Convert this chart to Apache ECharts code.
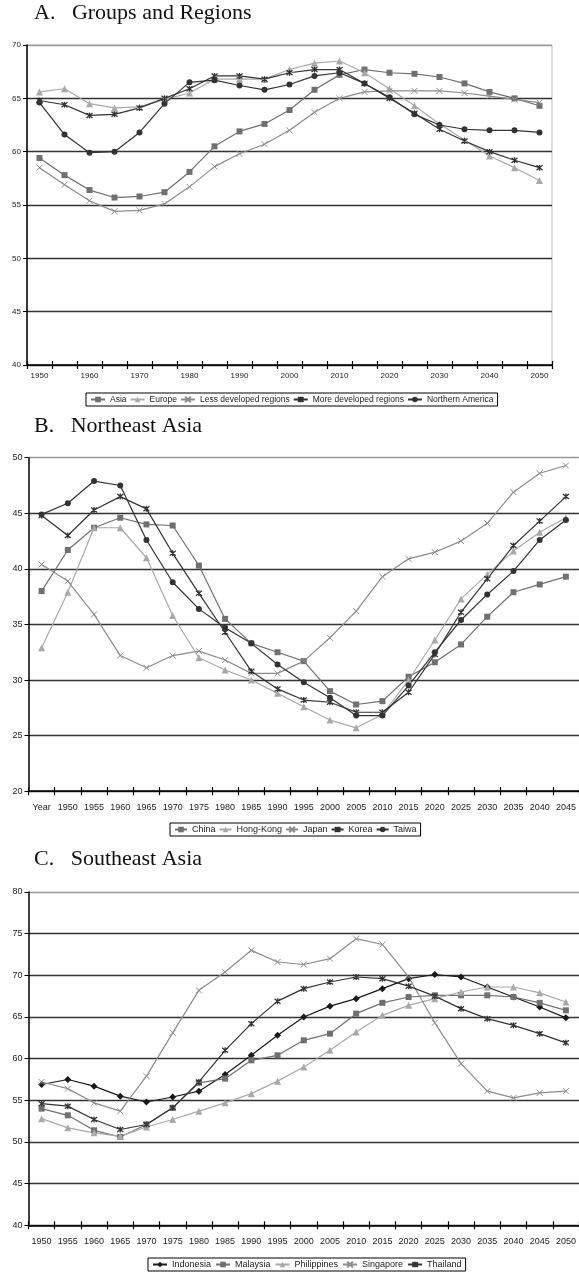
<!DOCTYPE html>
<html><head><meta charset="utf-8">
<script src="https://cdn.jsdelivr.net/npm/echarts@6/dist/echarts.min.js"></script>
<style>html,body{margin:0;padding:0;background:#fff}#c{width:579px;height:1276px}</style>
</head><body><div id="c"></div>
<script>
// ---------- DATA ----------
const yearsA = ['1950','1955','1960','1965','1970','1975','1980','1985','1990','1995','2000','2005','2010','2015','2020','2025','2030','2035','2040','2045','2050'];
const asia     = [59.4,57.8,56.4,55.7,55.8,56.2,58.1,60.5,61.9,62.6,63.9,65.8,67.2,67.7,67.4,67.3,67.0,66.4,65.6,65.0,64.3];
const europe   = [65.6,65.9,64.5,64.1,64.2,64.9,65.5,66.8,66.8,66.8,67.7,68.3,68.5,67.4,65.9,64.3,62.6,61.1,59.6,58.5,57.3];
const lessDev  = [58.5,56.9,55.4,54.4,54.5,55.1,56.7,58.6,59.8,60.7,62.0,63.7,65.0,65.6,65.7,65.7,65.7,65.5,65.2,64.9,64.6];
const moreDev  = [64.8,64.4,63.4,63.5,64.1,65.0,65.9,67.1,67.1,66.8,67.4,67.7,67.7,66.4,65.0,63.6,62.1,61.0,60.0,59.2,58.5];
const nAmerica = [64.6,61.6,59.9,60.0,61.8,64.5,66.5,66.7,66.2,65.8,66.3,67.1,67.4,66.4,65.1,63.5,62.5,62.1,62.0,62.0,61.8];

const yearsB = ['Year','1950','1955','1960','1965','1970','1975','1980','1985','1990','1995','2000','2005','2010','2015','2020','2025','2030','2035','2040','2045'];
const china    = [38.0,41.7,43.7,44.6,44.0,43.9,40.3,35.5,33.3,32.5,31.7,29.0,27.8,28.1,30.3,31.6,33.2,35.7,37.9,38.6,39.3];
const hongKong = [32.9,37.9,43.7,43.7,41.0,35.8,32.0,30.9,30.0,28.8,27.6,26.4,25.7,26.9,30.0,33.6,37.3,39.5,41.6,43.3,44.6];
const japan    = [40.4,38.9,35.9,32.2,31.1,32.2,32.6,31.8,30.6,30.6,31.7,33.8,36.2,39.3,40.9,41.5,42.5,44.1,46.9,48.6,49.3];
const korea    = [44.8,43.0,45.3,46.5,45.4,41.4,37.8,34.3,30.8,29.2,28.2,28.0,27.1,27.1,28.9,32.3,36.1,39.1,42.1,44.3,46.5];
const taiwan   = [44.9,45.9,47.9,47.5,42.6,38.8,36.4,34.7,33.3,31.4,29.8,28.4,26.8,26.8,29.5,32.5,35.4,37.7,39.8,42.6,44.4];

const yearsC = ['1950','1955','1960','1965','1970','1975','1980','1985','1990','1995','2000','2005','2010','2015','2020','2025','2030','2035','2040','2045','2050'];
const indonesia   = [56.9,57.5,56.7,55.5,54.8,55.4,56.1,58.1,60.4,62.8,65.0,66.3,67.2,68.4,69.6,70.1,69.8,68.6,67.4,66.2,64.9];
const malaysia    = [54.0,53.2,51.4,50.6,52.1,54.1,57.1,57.6,59.8,60.4,62.2,63.0,65.4,66.7,67.4,67.6,67.6,67.6,67.4,66.7,65.8];
const philippines = [52.8,51.7,51.1,50.7,51.8,52.7,53.7,54.7,55.8,57.3,59.0,61.0,63.2,65.2,66.4,67.2,68.0,68.6,68.6,67.9,66.8];
const singapore   = [57.2,56.4,54.7,53.7,57.9,63.1,68.2,70.4,73.0,71.6,71.3,72.0,74.4,73.7,69.8,64.3,59.4,56.1,55.3,55.9,56.1];
const thailand    = [54.6,54.3,52.7,51.5,52.1,54.1,57.2,61.0,64.2,66.9,68.4,69.2,69.8,69.6,68.7,67.5,66.0,64.8,64.0,63.0,61.9];

const titles = ['A.   Groups and Regions','B.   Northeast Asia','C.   Southeast Asia'];

// ---------- STYLES ----------
const SANS = 'Liberation Sans, Arial, sans-serif';
const SERIF = 'Liberation Serif, Times New Roman, serif';
const ST = {
  square:   {symbol:'rect', size:6, color:'#707070', bw:0},
  triangle: {symbol:'triangle', size:7, color:'#a9a9a9', bw:0},
  cross:    {symbol:'path://M0,0L10,10M10,0L0,10', size:6, color:'#8c8c8c', bw:1},
  star:     {symbol:'path://M0,0L10,10M10,0L0,10M5,-1L5,11', size:6, color:'#333333', bw:1.3},
  circle:   {symbol:'circle', size:6, color:'#333333', bw:0},
  diamond:  {symbol:'diamond', size:7, color:'#1a1a1a', bw:0}
};
function mk(name, data, st, idx){
  const s = ST[st];
  return {
    name, type:'line', data, xAxisIndex: idx*2, yAxisIndex: idx,
    symbol: s.symbol, symbolSize: s.size, showSymbol:true, animation:false,
    lineStyle:{color:s.color, width:1.2},
    itemStyle:{color:s.color, borderColor:s.color, borderWidth:s.bw},
    emphasis:{disabled:true}
  };
}

const grids = [
  {left:27, top:45, width:525, height:320, show:true, borderColor:'#bbb', borderWidth:1},
  {left:28.5, top:457.7, width:554, height:333.5},
  {left:28.5, top:892, width:554, height:333.3}
];
const cats = [yearsA, yearsB, yearsC];
const xAxis = [];
cats.forEach((c,i)=>{
  xAxis.push({
    type:'category', gridIndex:i, data:c, boundaryGap:true, position:'bottom',
    axisLine:{show:true, lineStyle:{color:'#000', width:1.5}},
    axisTick:{show:true, interval:0, length:4, lineStyle:{color:'#000', width:1.2}},
    axisLabel:{interval: i===0 ? 1 : 0, fontFamily:SANS, fontSize: i===0 ? 8 : 9, color:'#222', margin: i===0 ? 7 : 12},
    splitLine:{show:false}
  });
  xAxis.push({
    type:'category', gridIndex:i, data:c, boundaryGap:true, position:'bottom',
    axisLine:{show:false},
    axisTick:{show:true, inside:true, interval:0, length:4, lineStyle:{color:'#000', width:1.2}},
    axisLabel:{show:false}, splitLine:{show:false}
  });
});
function splitColors(n){ const a=[]; for(let k=0;k<n-1;k++) a.push('#333'); a.push('#999'); return a; }
const yCfg = [[40,70],[20,50],[40,80]];
const yAxis = yCfg.map((r,i)=>({
  type:'value', gridIndex:i, min:r[0], max:r[1], interval:5,
  axisLine:{show:true, lineStyle:{color:'#000', width:1.5}},
  axisTick:{show:true, length:4, lineStyle:{color:'#000'}},
  axisLabel:{fontFamily:SANS, fontSize: i===0 ? 8 : 9, color:'#222', margin:6},
  splitLine:{show:true, lineStyle:{color:splitColors((r[1]-r[0])/5+1), width:1.3}}
}));

const series = [
  mk('Asia', asia, 'square', 0),
  mk('Europe', europe, 'triangle', 0),
  mk('Less developed regions', lessDev, 'cross', 0),
  mk('More developed regions', moreDev, 'star', 0),
  mk('Northern America', nAmerica, 'circle', 0),
  mk('China', china, 'square', 1),
  mk('Hong-Kong', hongKong, 'triangle', 1),
  mk('Japan', japan, 'cross', 1),
  mk('Korea', korea, 'star', 1),
  mk('Taiwa', taiwan, 'circle', 1),
  mk('Indonesia', indonesia, 'diamond', 2),
  mk('Malaysia', malaysia, 'square', 2),
  mk('Philippines', philippines, 'triangle', 2),
  mk('Singapore', singapore, 'cross', 2),
  mk('Thailand', thailand, 'star', 2)
];
function legendOf(top, left, data, fs, iw, gap){
  return {
    orient:'horizontal', top, left, data,
    itemWidth:iw, itemHeight:7, itemGap:gap,
    borderColor:'#000', borderWidth:1, padding:[2,4,2,4], borderRadius:0,
    textStyle:{fontFamily:SANS, fontSize:fs, color:'#222'},
    selectedMode:false
  };
}
const legends = [
  legendOf(393, 86, ['Asia','Europe','Less developed regions','More developed regions','Northern America'], 8.5, 14, 3),
  legendOf(823, 170, ['China','Hong-Kong','Japan','Korea','Taiwa'], 9, 12, 3),
  legendOf(1258, 148, ['Indonesia','Malaysia','Philippines','Singapore','Thailand'], 9, 14, 4)
];
const titleTops = [2, 415, 848];
const title = titles.map((t,i)=>({
  text:t, left:34, top:titleTops[i], padding:0,
  textStyle:{fontFamily:SERIF, fontSize:22, fontWeight:'normal', color:'#111'}
}));

const chart = echarts.init(document.getElementById('c'), null, {renderer:'canvas'});
chart.setOption({
  backgroundColor:'#fff', animation:false,
  title, grid:grids, xAxis, yAxis, legend:legends, series
});
</script></body></html>
